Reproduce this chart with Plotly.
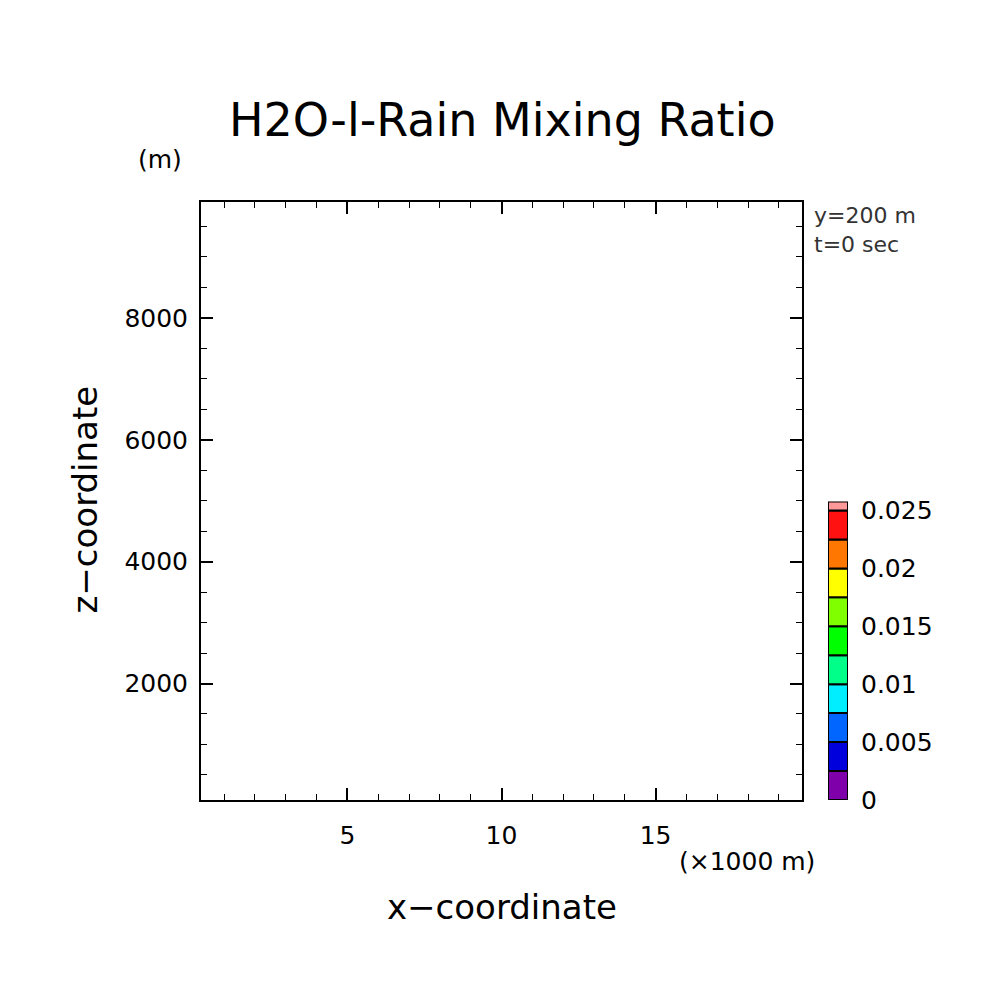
import plotly.graph_objects as go

# colour levels of the shaded field (field itself is empty at t=0)
levels = [0, 0.0025, 0.005, 0.0075, 0.01, 0.0125, 0.015, 0.0175, 0.02, 0.0225, 0.025]
level_colors = ["#7f00aa", "#0000dd", "#0066ff", "#00eeff", "#00ff88",
                "#00ff00", "#80ff00", "#ffff00", "#ff7700", "#ff1111", "#ff9999"]
top_extra = 0.00078
cb_ticks = [0, 0.005, 0.01, 0.015, 0.02, 0.025]
cb_ticktext = ["0", "0.005", "0.01", "0.015", "0.02", "0.025"]

x_range = [0.25, 19.75]
z_range = [90, 9900]

OFF = 8  # page body margin
W = 1004 - 2 * OFF
VSCALE = 0.985  # measured vertical squeeze of the screenshot


def px(v):
    return (v - OFF) / W


def py(v):
    v = 201 + (v - 201) / VSCALE
    return 1 - (v - OFF) / W


font = dict(family="DejaVu Sans", color="black", size=25)

fig = go.Figure()
# invisible trace just to hold the main axes
fig.add_trace(go.Scatter(x=x_range, y=z_range, mode="markers",
                         marker=dict(opacity=0), showlegend=False, hoverinfo="skip"))

heights = [levels[i + 1] - levels[i] for i in range(len(levels) - 1)] + [top_extra]
for base, h, c in zip(levels, heights, level_colors):
    fig.add_trace(go.Bar(x=[0], y=[h], base=[base], marker=dict(color=c, line=dict(color="black", width=2)),
                         width=1, xaxis="x2", yaxis="y2", showlegend=False, hoverinfo="skip"))

axis_common = dict(showgrid=False, zeroline=False, ticks="inside", mirror="allticks",
                   showline=True, linecolor="black", linewidth=2, tickcolor="black",
                   tickwidth=1.5, ticklen=12, tickfont=font,
                   minor=dict(ticks="inside", ticklen=6, tickcolor="black", tickwidth=1))


def note(text, x, y, size=25, **kw):
    return dict(text=text, x=px(x), y=py(y), xref="paper", yref="paper", showarrow=False,
                xanchor=kw.pop("xanchor", "center"), yanchor=kw.pop("yanchor", "middle"),
                font=dict(family="DejaVu Sans", size=size, color=kw.pop("color", "black")), **kw)


fig.update_layout(
    width=W, height=W, margin=dict(l=0, r=0, t=0, b=0),
    plot_bgcolor="white", paper_bgcolor="white", barmode="overlay",
    xaxis=dict(domain=[px(201), px(802)], range=x_range, tickvals=[5, 10, 15],
               minor_dtick=1, ticklabelstandoff=12, **axis_common),
    yaxis=dict(domain=[py(802), py(201)], range=z_range, tickvals=[2000, 4000, 6000, 8000],
               minor_dtick=500, ticklabelstandoff=6, **axis_common),
    xaxis2=dict(domain=[px(828), px(848)], range=[-0.5, 0.5], visible=False, anchor="y2"),
    yaxis2=dict(domain=[py(802), py(502)], range=[0, levels[-1] + top_extra], anchor="x2",
                side="right", showgrid=False, zeroline=False, showline=False,
                tickvals=cb_ticks, ticktext=cb_ticktext, ticks="", tickfont=font,
                ticklabelstandoff=12),
    annotations=[
        note("H2O-l-Rain Mixing Ratio", 502, 118, size=46),
        note("x\u2212coordinate", 502, 910, size=34),
        note("z\u2212coordinate", 85, 500, size=34, textangle=-90),
        note("(m)", 160, 158),
        note("(\u00d71000 m)", 747, 864),
        note("y=200 m<br>t=0 sec", 812, 200, size=22, xanchor="left", yanchor="top",
             align="left", color="#333333"),
    ],
)

fig.write_html("out.html")
